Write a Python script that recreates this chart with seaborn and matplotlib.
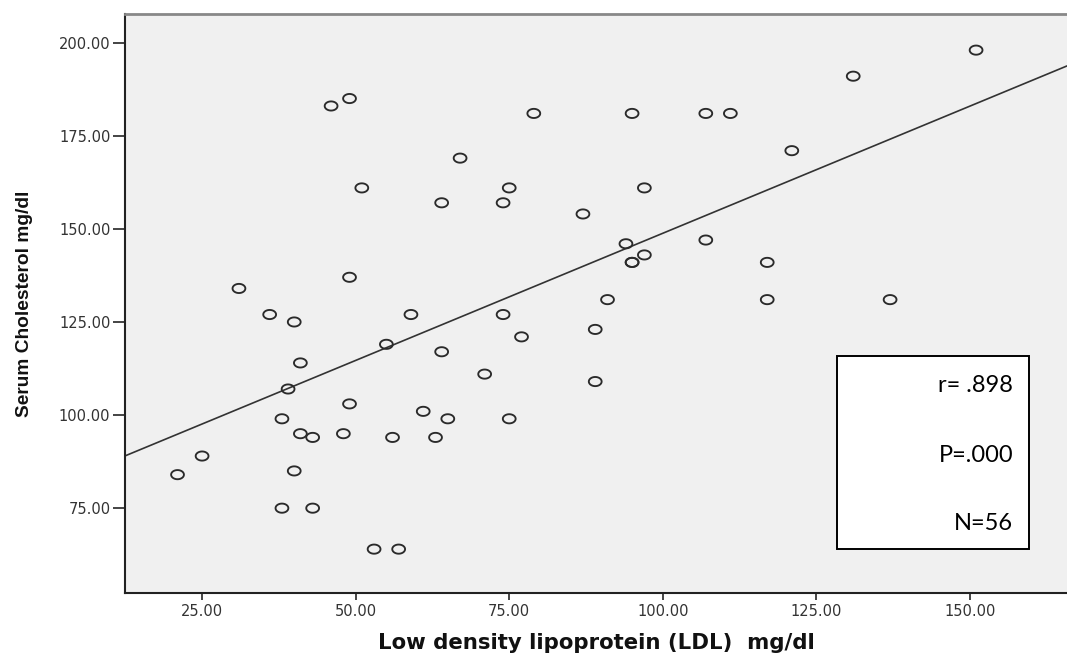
import numpy as np
import pandas as pd
import matplotlib
matplotlib.use("Agg")
import matplotlib.pyplot as plt
from matplotlib.path import Path
from matplotlib.patches import Rectangle
import seaborn as sns

# ---- data ----
ldl = [46, 49, 51, 31, 49, 36, 40, 55, 41, 39, 49, 38, 41, 43, 48, 56, 25, 21,
       40, 38, 43, 53, 57, 79, 95, 107, 111, 121, 67, 75, 97, 64, 74, 87, 94,
       97, 95, 95, 107, 117, 117, 91, 59, 74, 77, 89, 151, 131, 137, 64, 71,
       89, 61, 65, 75, 63]
chol = [183, 185, 161, 134, 137, 127, 125, 119, 114, 107, 103, 99, 95, 94, 95,
        94, 89, 84, 85, 75, 75, 64, 64, 181, 181, 181, 181, 171, 169, 161, 161,
        157, 157, 154, 146, 143, 141, 141, 147, 141, 131, 131, 127, 127, 121,
        123, 198, 191, 131, 117, 111, 109, 101, 99, 99, 94]
x_ticks = [25, 50, 75, 100, 125, 150]
y_ticks = [75, 100, 125, 150, 175, 200]
stats_lines = ["r= .898", "P=.000", "N=56"]
x_label = "Low density lipoprotein (LDL)  mg/dl"
y_label = "Serum Cholesterol mg/dl"

df = pd.DataFrame({"ldl": ldl, "chol": chol})

sns.set_theme(style="ticks")
plt.rcParams["font.family"] = ["DejaVu Sans"]

fig = plt.figure(figsize=(10.67, 6.53), dpi=100)
ax = fig.add_axes([125 / 1067, 1 - 592.7 / 653, 942 / 1067, 578.7 / 653])
ax.set_facecolor("#f0f0f0")

xlim = (12.45, 165.8)
ylim = (52.3, 207.7)
ax.set_xlim(*xlim)
ax.set_ylim(*ylim)

# elliptical open marker (the reference is horizontally stretched)
t = np.linspace(0, 2 * np.pi, 64)
ell = Path(np.column_stack([1.4 * np.cos(t), np.sin(t)]), closed=True)

sns.regplot(data=df, x="ldl", y="chol", ax=ax, ci=None, truncate=False,
            marker=ell,
            scatter_kws=dict(s=85, facecolors="none", edgecolors="#2a2a2a",
                             linewidths=1.35, alpha=1, zorder=3),
            line_kws=dict(color="#333333", lw=1.2, zorder=2))

ax.set_xlim(*xlim)
ax.set_ylim(*ylim)
ax.set_xticks(x_ticks)
ax.set_yticks(y_ticks)
ax.set_xticklabels([f"{v:.2f}" for v in x_ticks])
ax.set_yticklabels([f"{v:.2f}" for v in y_ticks])
ax.tick_params(axis="x", length=5, width=1.4, color="#444444", pad=3,
               labelsize=10.5, labelcolor="#333333", direction="out")
ax.tick_params(axis="y", length=8.5, width=1.4, color="#444444", pad=2,
               labelsize=10.5, labelcolor="#333333", direction="out")

for side in ["left", "bottom"]:
    ax.spines[side].set_color("#222222")
    ax.spines[side].set_linewidth(1.5)
ax.spines["top"].set_color("#888888")
ax.spines["top"].set_linewidth(2)
ax.spines["right"].set_visible(False)

ax.set_xlabel(x_label, fontsize=15.3, fontweight="bold", color="#111111")
ax.set_ylabel(y_label, fontsize=13.8, fontweight="bold", color="#111111",
              family=["Liberation Sans", "DejaVu Sans"])
ax.xaxis.label.set_va("baseline")
ax.xaxis.set_label_coords(0.5, -0.0965)
ax.yaxis.set_label_coords(-0.0977, 0.5)

# statistics box
bx0, bx1 = (836.7 - 125) / 942, (1029.3 - 125) / 942
by0, by1 = (592.7 - 548.7) / 578.7, (592.7 - 356) / 578.7
ax.add_patch(Rectangle((bx0, by0), bx1 - bx0, by1 - by0, transform=ax.transAxes,
                       facecolor="white", edgecolor="black", lw=1.4, zorder=5))
tx = (1013.3 - 125) / 942
for line, py in zip(stats_lines, [386, 455, 523.3]):
    ax.text(tx, (592.7 - py) / 578.7, line, transform=ax.transAxes,
            ha="right", va="center", fontsize=17, family=["Lato", "DejaVu Sans"],
            color="black", zorder=6)

fig.savefig("out.png", dpi=100, facecolor="white")
